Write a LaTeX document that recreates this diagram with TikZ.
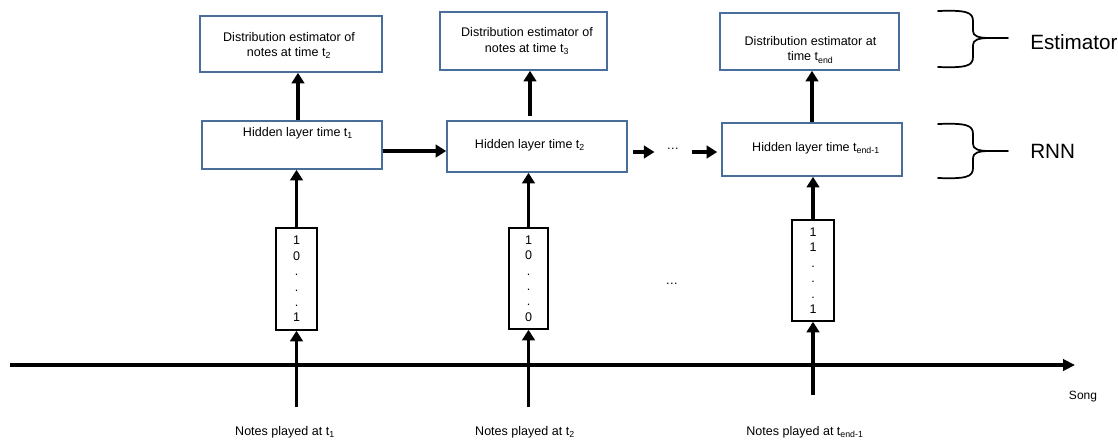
\documentclass[tikz,border=0pt]{standalone}
\usepackage{fontspec}
\setmainfont{Liberation Sans}
\usetikzlibrary{arrows.meta}
\definecolor{boxblue}{RGB}{74,110,156}
\begin{document}
\begin{tikzpicture}[x=0.75pt,y=-0.75pt,
  ebox/.style={draw=boxblue, line width=1.2pt, inner sep=0pt},
  vbox/.style={draw=black, line width=1.1pt, inner sep=0pt, align=center,
    font=\fontsize{9.4}{11.6}\selectfont},
  txt/.style={inner sep=0pt, align=center, font=\fontsize{9.4}{11.3}\selectfont},
  arr/.style={line width=2.5pt, -{Triangle[length=8pt,width=9.5pt]}},
  axisarr/.style={line width=2.5pt, -{Triangle[length=9pt,width=8.5pt]}},
  bracepath/.style={line width=1.3pt, line cap=round, line join=round},
  biglabel/.style={inner sep=0pt, anchor=west, font=\fontsize{15.5}{18}\selectfont}]
\useasboundingbox (0,0) rectangle (1118,440);

% estimator boxes
\node[ebox, minimum width=136.5pt, minimum height=42pt] (e1) at (291,44) {};
\node[ebox, minimum width=125.25pt, minimum height=43.5pt] (e2) at (523.5,41) {};
\node[ebox, minimum width=134.25pt, minimum height=42.75pt] (e3) at (809.5,41.5) {};
\node[txt] (e1t) at (289,45.5) {Distribution estimator of\\notes at time t\textsubscript{2}};
\node[txt] (e2t) at (527,41) {Distribution estimator of\\notes at time t\textsubscript{3}};
\node[txt] (e3t) at (810.5,50) {Distribution estimator at\\time t\textsubscript{end}};

% hidden layer boxes
\node[ebox, minimum width=135pt, minimum height=36pt] (h1) at (292,145) {};
\node[ebox, minimum width=135pt, minimum height=38.25pt] (h2) at (537,146.5) {};
\node[ebox, minimum width=135pt, minimum height=39.75pt] (h3) at (812,149.5) {};
\node[txt] (h1t) at (298,133) {Hidden layer time t\textsubscript{1}};
\node[txt] (h2t) at (530,145) {Hidden layer time t\textsubscript{2}};
\node[txt] (h3t) at (816,148) {Hidden layer time t\textsubscript{end-1}};

% input vectors
\node[vbox, minimum width=30.75pt, minimum height=76.5pt] (v1) at (296.5,279) {1\\0\\.\\.\\.\\1};
\node[vbox, minimum width=29.25pt, minimum height=75.75pt] (v2) at (528.5,278.5) {1\\0\\.\\.\\.\\0};
\node[vbox, minimum width=31.5pt, minimum height=75.75pt] (v3) at (813,270.5) {1\\1\\.\\.\\.\\1};

% dots
\node[txt] (hd) at (673,149) {\ldots};
\node[txt] (md) at (672,284) {\ldots};

% hidden -> estimator
\draw[arr] (h1.north -| 298,0) -- (e1.south -| 298,0);
\draw[arr, shorten <=3pt] (h2.north -| 530,0) -- (e2.south -| 530,0);
\draw[arr] (h3.north -| 812,0) -- (e3.south -| 812,0);

% recurrent arrows
\draw[arr] (h1.east |- 0,151) -- (h2.west |- 0,151);
\draw[arr, shorten <=3.75pt, shorten >=9pt] (h2.east |- 0,152) -- (hd.west |- 0,152);
\draw[arr, shorten <=9pt, shorten >=3pt] (hd.east |- 0,152) -- (h3.west |- 0,152);

% vectors -> hidden
\draw[arr] (v1.north) -- (h1.south -| v1.north);
\draw[arr] (v2.north) -- (h2.south -| v2.north);
\draw[arr] (v3.north) -- (h3.south -| v3.north);

% time axis
\coordinate (ax0) at (10,365);
\coordinate (ax1) at (1075,365);
\draw[axisarr] (ax0) -- (ax1);
\node[inner sep=0pt, font=\fontsize{9}{11}\selectfont] (song) at (1083,397) {Song};

% notes played arrows
\coordinate (b1) at (v1.south |- 0,407);
\coordinate (b2) at (v2.south |- 0,407);
\coordinate (b3) at (v3.south |- 0,395);
\draw[arr] (b1) -- (v1.south);
\draw[arr] (b2) -- (v2.south);
\draw[arr] (b3) -- (v3.south);
\node[txt] (n1) at (285,432) {Notes played at t\textsubscript{1}};
\node[txt] (n2) at (525,432) {Notes played at t\textsubscript{2}};
\node[txt] (n3) at (805,432.5) {Notes played at t\textsubscript{end-1}};

% braces
\draw[bracepath] (938,11) .. controls (966,10) and (973,12) .. (973,21) -- (973,31)
  .. controls (973,36) and (978,38) .. (990,38) -- (1008,38);
\draw[bracepath] (938,67) .. controls (966,68) and (973,66) .. (973,57) -- (973,45)
  .. controls (973,40) and (978,38) .. (990,38);
\node[biglabel] (est) at (1030,42) {Estimator};

\draw[bracepath] (938,124) .. controls (966,123) and (973,125) .. (973,134) -- (973,144)
  .. controls (973,149) and (978,151) .. (990,151) -- (1008,151);
\draw[bracepath] (938,178) .. controls (966,179) and (973,177) .. (973,168) -- (973,158)
  .. controls (973,153) and (978,151) .. (990,151);
\node[biglabel] (rnn) at (1030,151) {RNN};
\end{tikzpicture}
\end{document}
